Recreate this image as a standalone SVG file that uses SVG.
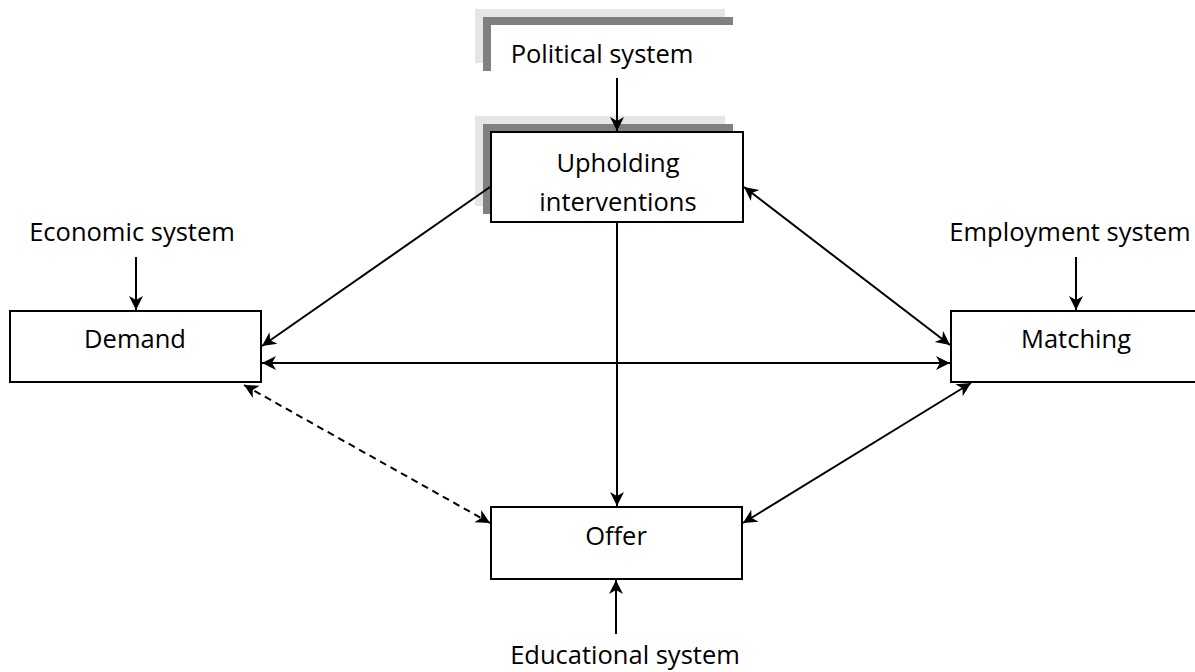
<svg xmlns="http://www.w3.org/2000/svg" width="1195" height="672" viewBox="0 0 1195 672">
  <style>
    .box { fill: #ffffff; stroke: #000000; stroke-width: 2; }
    .sh1 { fill: #e6e6e6; }
    .sh2 { fill: #808080; }
    .lbl { font-family: "Open Sans", "Liberation Sans", sans-serif; font-size: 25.5px; fill: #000000; text-anchor: middle; }
    .edge { stroke: #000000; stroke-width: 2; fill: none; }
    .dash { stroke-dasharray: 7 5; }
  </style>
  <defs>
    <marker id="arrow" viewBox="-15 -8 16 16" refX="0" refY="0" markerWidth="16" markerHeight="16" markerUnits="userSpaceOnUse" orient="auto-start-reverse">
      <path d="M0,0 L-14,-7 L-10,0 L-14,7 Z" fill="#000000"/>
    </marker>
  </defs>

  <rect width="1195" height="672" fill="#ffffff"/>

  <!-- outside systems -->
  <g id="political">
    <rect class="sh1" x="475" y="9" width="250" height="54"/>
    <rect class="sh2" x="483" y="17" width="250" height="54"/>
    <rect x="491" y="25" width="250" height="54" fill="#ffffff"/>
    <text class="lbl" x="602" y="63">Political system</text>
  </g>
  <g id="economic">
    <text class="lbl" x="132" y="241">Economic system</text>
  </g>
  <g id="employment">
    <text class="lbl" x="1070" y="241">Employment system</text>
  </g>
  <g id="educational">
    <text class="lbl" x="625" y="664">Educational system</text>
  </g>

  <!-- market nodes -->
  <g id="upholding">
    <rect class="sh1" x="475" y="116" width="250" height="90"/>
    <rect class="sh2" x="483" y="124" width="250" height="90"/>
    <rect class="box" x="491" y="132" width="252" height="90"/>
    <text class="lbl" x="618" y="172">Upholding</text>
    <text class="lbl" x="618" y="211">interventions</text>
  </g>
  <g id="demand">
    <rect class="box" x="10" y="311" width="251" height="71"/>
    <text class="lbl" x="135" y="348">Demand</text>
  </g>
  <g id="matching">
    <rect class="box" x="951" y="311" width="251" height="71"/>
    <text class="lbl" x="1076" y="348">Matching</text>
  </g>
  <g id="offer">
    <rect class="box" x="491" y="507" width="251" height="72"/>
    <text class="lbl" x="616" y="545">Offer</text>
  </g>

  <!-- connectors -->
  <g id="connectors">
    <line class="edge" x1="617" y1="78" x2="617" y2="131" marker-end="url(#arrow)"/>
    <line class="edge" x1="136" y1="257" x2="136" y2="310" marker-end="url(#arrow)"/>
    <line class="edge" x1="1076" y1="257" x2="1076" y2="310" marker-end="url(#arrow)"/>
    <line class="edge" x1="616" y1="634" x2="616" y2="580" marker-end="url(#arrow)"/>
    <line class="edge" x1="490" y1="187" x2="262" y2="346" marker-end="url(#arrow)"/>
    <line class="edge" x1="744" y1="187" x2="950" y2="345" marker-start="url(#arrow)" marker-end="url(#arrow)"/>
    <line class="edge" x1="617" y1="223" x2="617" y2="506" marker-end="url(#arrow)"/>
    <line class="edge" x1="262" y1="363" x2="950" y2="363" marker-start="url(#arrow)" marker-end="url(#arrow)"/>
    <line class="edge dash" x1="244" y1="385" x2="490" y2="523" marker-start="url(#arrow)" marker-end="url(#arrow)"/>
    <line class="edge" x1="971" y1="383" x2="743" y2="523" marker-start="url(#arrow)" marker-end="url(#arrow)"/>
  </g>
</svg>
